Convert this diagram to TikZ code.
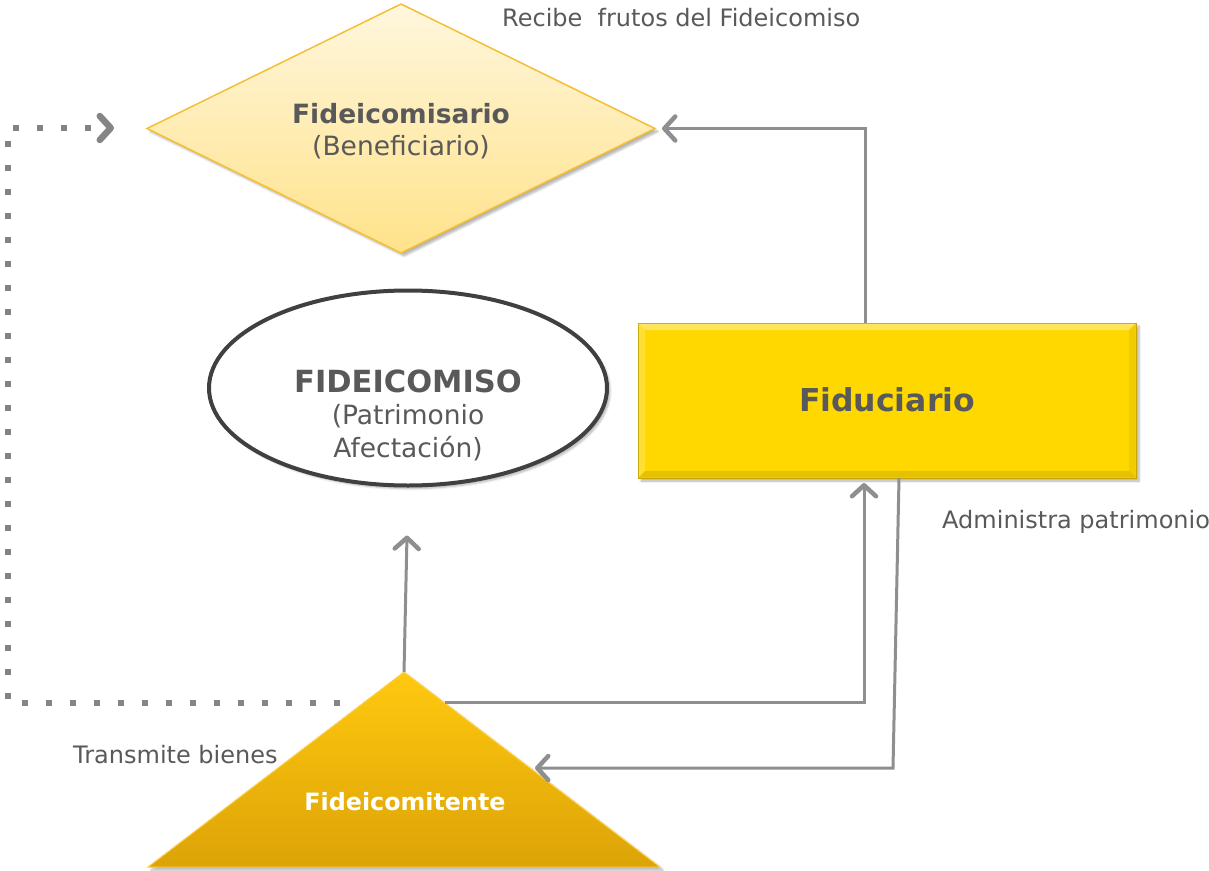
\documentclass[tikz,border=0pt]{standalone}
\usepackage{fontspec}
\setmainfont{DejaVu Sans}
\usetikzlibrary{arrows.meta,shapes.geometric,shadows.blur}
\definecolor{txt}{HTML}{595959}
\definecolor{conn}{HTML}{8F8F8F}
\definecolor{dots}{HTML}{858585}
\definecolor{diaTop}{HTML}{FFF7DE}
\definecolor{diaBot}{HTML}{FFE28A}
\definecolor{diaLine}{HTML}{F5BF35}
\definecolor{rectFill}{HTML}{FFD800}
\definecolor{rectLine}{HTML}{C9A600}
\definecolor{triTop}{HTML}{FFC90F}
\definecolor{triBot}{HTML}{DCA307}
\definecolor{triLine}{HTML}{FFD24D}
\definecolor{ellLine}{HTML}{404040}
\begin{document}
\begin{tikzpicture}[x=1pt,y=-1pt,
  shade/.style={blur shadow={shadow xshift=3pt,shadow yshift=-3pt,shadow blur steps=6,shadow opacity=30}},
  conn/.style={draw=conn,line width=3pt,-{Straight Barb[length=11pt,width=24pt,line width=4.5pt,round]}},
  dotline/.style={draw=dots,line width=6pt,dash pattern=on 6pt off 18pt,-{Straight Barb[length=11pt,width=24pt,line width=6.5pt,round]}},
  lbl/.style={font=\fontsize{24}{28}\selectfont,text=txt,inner sep=0pt,anchor=west}]
\useasboundingbox (0,0) rectangle (1209,870);
% Fideicomisario (diamond)
\path[top color=diaTop,bottom color=diaBot,shade] (147,128.5) -- (401,4) -- (655,128.5) -- (401,253) -- cycle;
\draw[diaLine,line width=1.5pt] (147,128.5) -- (401,4) -- (655,128.5) -- (401,253) -- cycle;
\coordinate (fdmE) at (655,128.5);
\node[align=center,text=txt,font=\fontsize{26.5}{32}\selectfont] (fdmT) at (401,131)
  {\textbf{Fideicomisario}\\(Beneficiario)};
% Fideicomiso (ellipse)
\node[ellipse,minimum width=398pt,minimum height=195pt,inner sep=0pt,outer sep=0pt,
  draw=ellLine,line width=4pt,fill=white,shade] (fid) at (408,388) {};
\node[align=center,text=txt,font=\fontsize{26.5}{32.5}\selectfont] (fidT) at (408,415)
  {{\fontsize{30.5}{32.5}\selectfont\textbf{FIDEICOMISO}}\\(Patrimonio\\Afectación)};
% Fiduciario (rectangle)
\node[rectangle,minimum width=498pt,minimum height=155pt,inner sep=0pt,outer sep=0pt,
  fill=rectFill,draw=rectLine,line width=1pt,shade] (fidu) at (887,400.5) {};
\fill[fill=white,opacity=0.35] (638.5,323.5) -- (1135.5,323.5) -- (1129,330) -- (645,330) -- cycle;
\fill[fill=white,opacity=0.2] (638.5,323.5) -- (645,330) -- (645,471) -- (638.5,477.5) -- cycle;
\fill[fill=black,opacity=0.06] (1135.5,323.5) -- (1129,330) -- (1129,471) -- (1135.5,477.5) -- cycle;
\fill[fill=black,opacity=0.1] (638.5,477.5) -- (645,471) -- (1129,471) -- (1135.5,477.5) -- cycle;
\node[text=txt,font=\fontsize{31.5}{36}\selectfont\bfseries] (fiduT) at (887,400) {Fiduciario};
% Fideicomitente (triangle)
\fill[top color=triTop,bottom color=triBot,shade] (404,672) -- (660,867) -- (148,867) -- cycle;
\draw[triLine,line width=1pt] (404,672) -- (660,867) -- (148,867) -- cycle;
\node[text=white,font=\fontsize{23.8}{26}\selectfont\bfseries] (fte) at (405,802) {Fideicomitente};
\coordinate (apex) at (404,672);
\coordinate (triR) at (445,702);
\coordinate (triIn) at (535,768);
\coordinate (triDot) at (340,703);
\coordinate (dotBL) at (8,703);
\coordinate (dotTL) at (8,128);
\coordinate (dotEnd) at (114,128);
\coordinate (admCorner) at (893,768);
% connectors
\draw[conn] ([xshift=-22pt]fidu.north) |- ([xshift=7pt]fdmE);
\draw[conn] (apex) -- ([xshift=-1pt,yshift=-50pt]fid.south);
\draw[conn] (triR) -| ([xshift=-23pt,yshift=-5pt]fidu.south);
\draw[conn] ([xshift=12pt]fidu.south) -- (admCorner) -- (triIn);
\draw[dotline] (triDot) -- (dotBL) -- (dotTL) -- (dotEnd);
% labels
\node[lbl] (lRec) at (502,18) {Recibe~ frutos del Fideicomiso};
\node[lbl] (lAdm) at (942,522) {Administra patrimonio};
\node[lbl] (lTra) at (73,755) {Transmite bienes};
\end{tikzpicture}
\end{document}
